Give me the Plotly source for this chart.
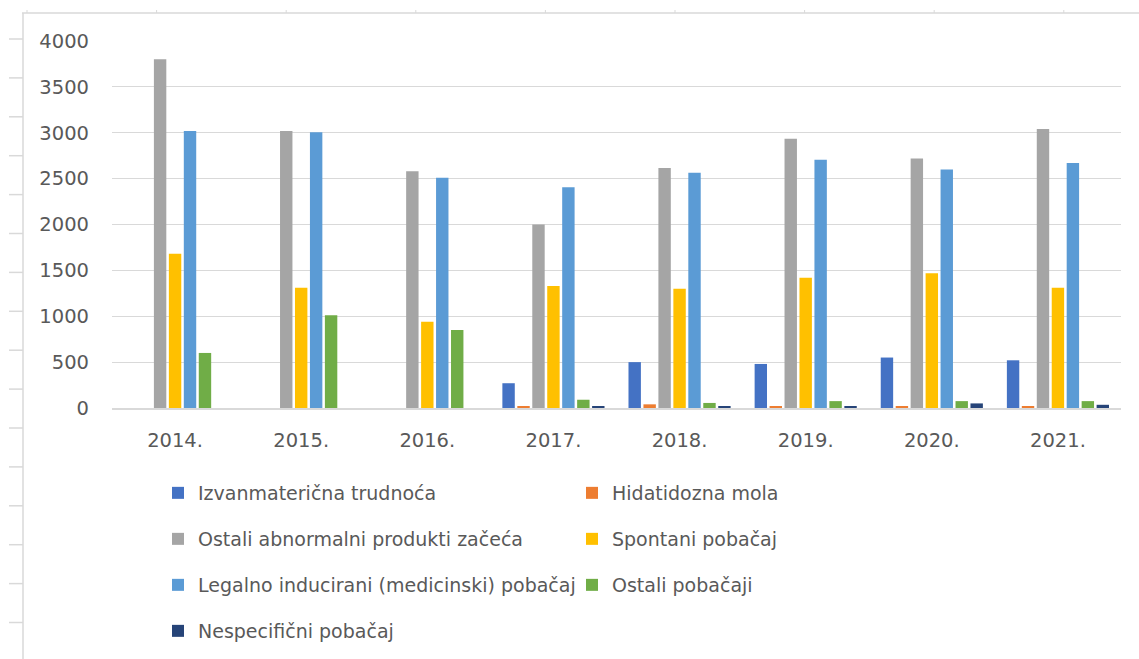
import plotly.graph_objects as go

years = ["2014.", "2015.", "2016.", "2017.", "2018.", "2019.", "2020.", "2021."]

izvanmaternicna = [None, None, None, 270, 500, 480, 550, 520]
hidatidozna = [None, None, None, 20, 40, 20, 20, 20]
ostali_abnormalni = [3800, 3020, 2580, 2000, 2615, 2935, 2720, 3040]
spontani = [1680, 1310, 940, 1330, 1300, 1420, 1470, 1310]
legalno = [3020, 3005, 2510, 2405, 2565, 2705, 2600, 2670]
ostali_pobacaji = [600, 1010, 850, 90, 55, 75, 75, 75]
nespecificni = [None, None, None, 20, 15, 15, 50, 35]

series = [
    ("Izvanmaterična trudnoća", izvanmaternicna, "#4472C4", "legend"),
    ("Hidatidozna mola", hidatidozna, "#ED7D31", "legend"),
    ("Ostali abnormalni produkti začeća", ostali_abnormalni, "#A5A5A5", "legend2"),
    ("Spontani pobačaj", spontani, "#FFC000", "legend2"),
    ("Legalno inducirani (medicinski) pobačaj", legalno, "#5B9BD5", "legend3"),
    ("Ostali pobačaji", ostali_pobacaji, "#70AD47", "legend3"),
    ("Nespecifični pobačaj", nespecificni, "#264478", "legend4"),
]

W, H = 1139, 659
ML, MR, MT, MB = 112, 18, 41, 251
PW, PH = W - ML - MR, H - MT - MB


def px2x(px):
    return (px - ML) / PW


def py2y(py):
    return (H - MB - py) / PH


FONT = "DejaVu Sans"
GREY = "#595959"
LINE = "#d9d9d9"
FS = 19.5
LFS = 19

fig = go.Figure()
for name, vals, color, leg in series:
    fig.add_trace(go.Bar(
        name=name, x=years, y=vals, marker=dict(color=color, line=dict(width=0)),
        legend=leg,
    ))

shapes = []
# decorative frame: top border and left ruler
shapes.append(dict(type="line", xref="paper", yref="paper",
                   x0=px2x(22), x1=px2x(1139), y0=py2y(13), y1=py2y(13),
                   line=dict(color=LINE, width=1.5)))
shapes.append(dict(type="line", xref="paper", yref="paper",
                   x0=px2x(23), x1=px2x(23), y0=py2y(13), y1=py2y(659),
                   line=dict(color=LINE, width=1.5)))
for k in range(16):
    yy = 39 + 38.9 * k
    shapes.append(dict(type="line", xref="paper", yref="paper",
                       x0=px2x(9), x1=px2x(23), y0=py2y(yy), y1=py2y(yy),
                       line=dict(color=LINE, width=1.5)))
for k in range(9):
    xx = 27 + 129.6 * k
    shapes.append(dict(type="line", xref="paper", yref="paper",
                       x0=px2x(xx), x1=px2x(xx), y0=py2y(10), y1=py2y(13),
                       line=dict(color=LINE, width=1)))

legend_common = dict(
    orientation="h", xanchor="left", yanchor="middle", xref="paper", yref="paper",
    entrywidth=369, entrywidthmode="pixels", bgcolor="rgba(0,0,0,0)",
    font=dict(family=FONT, size=LFS, color=GREY), traceorder="normal",
)
leg_x = px2x(158)
rows = [493, 539, 585, 631]

fig.update_layout(
    width=W, height=H,
    margin=dict(l=ML, r=MR, t=MT, b=MB, autoexpand=False),
    paper_bgcolor="white", plot_bgcolor="white",
    barmode="group", bargap=0.17, bargroupgap=0.17,
    font=dict(family=FONT, size=FS, color=GREY),
    shapes=shapes,
    legend=dict(legend_common, x=leg_x, y=py2y(rows[0])),
    legend2=dict(legend_common, x=leg_x, y=py2y(rows[1])),
    legend3=dict(legend_common, x=leg_x, y=py2y(rows[2])),
    legend4=dict(legend_common, x=leg_x, y=py2y(rows[3])),
    xaxis=dict(showgrid=False, showline=True, linecolor=LINE, linewidth=2,
               ticks="", ticklabelstandoff=14,
               tickfont=dict(family=FONT, size=FS, color=GREY)),
    yaxis=dict(range=[0, 4000], dtick=500, showgrid=True, gridcolor=LINE, gridwidth=1,
               zeroline=False, showline=False, ticks="", ticklabelstandoff=22,
               tickfont=dict(family=FONT, size=FS, color=GREY)),
)

fig.write_html("out.html", config={"displayModeBar": False},
               post_script="document.body.style.margin='0';document.body.style.overflow='hidden';")
